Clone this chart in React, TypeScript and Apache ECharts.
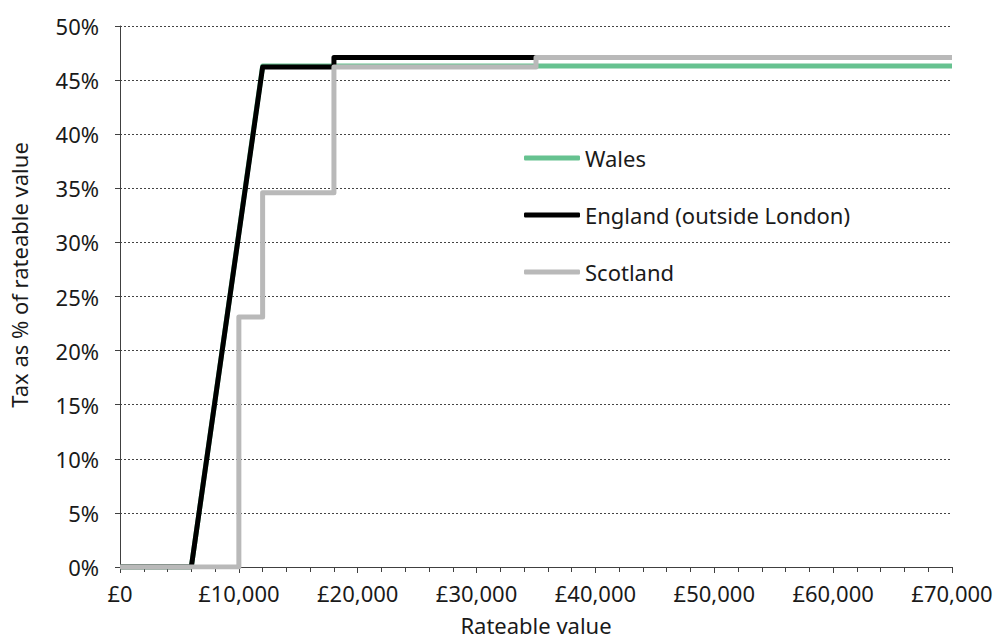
import React, { useEffect, useRef } from "react";
import * as echarts from "echarts";

const seriesNames = ["Wales", "England (outside London)", "Scotland"];
const seriesColors = ["#66c290", "#000000", "#b9b9b9"];

const walesRV = [0, 6000, 12000, 70000];
const walesTax = [0, 0, 46.3, 46.3];

const englandRV = [0, 6000, 12000, 18000, 18000, 70000];
const englandTax = [0, 0, 46.2, 46.2, 47.1, 47.1];

const scotlandRV = [0, 10000, 10000, 12000, 12000, 18000, 18000, 35000, 35000, 70000];
const scotlandTax = [0, 0, 23.1, 23.1, 34.6, 34.6, 46.2, 46.2, 47.1, 47.1];

const xTitle = "Rateable value";
const yTitle = "Tax as % of rateable value";

const FONT = "'Noto Sans', sans-serif";
const TEXT = "#1a1a1a";
const FS = 22;

function pairs(xs: number[], ys: number[]) {
  return xs.map((x, i) => [x, ys[i]]);
}

export default function App() {
  const ref = useRef<HTMLDivElement>(null);
  useEffect(() => {
    if (!ref.current) return;
    const chart = echarts.init(ref.current, null, { renderer: "svg" });
    const data = [pairs(walesRV, walesTax), pairs(englandRV, englandTax), pairs(scotlandRV, scotlandTax)];
    chart.setOption({
      animation: false,
      textStyle: { fontFamily: FONT },
      grid: { left: 120, right: 47, top: 26, bottom: 72 },
      legend: {
        orient: "vertical",
        left: 519,
        top: 140,
        itemWidth: 56,
        itemHeight: 5,
        itemGap: 31,
        icon: "roundRect",
        data: seriesNames,
        textStyle: { fontSize: FS, color: TEXT, fontFamily: FONT, lineHeight: 26 },
      },
      xAxis: {
        type: "value",
        min: 0,
        max: 70000,
        interval: 10000,
        axisLine: { show: true, lineStyle: { color: "#404040", width: 1 } },
        axisTick: { show: true, length: 6, lineStyle: { color: "#404040" } },
        minorTick: { show: true, splitNumber: 5, length: 5, lineStyle: { color: "#404040" } },
        splitLine: { show: false },
        axisLabel: {
          fontSize: FS,
          color: TEXT,
          fontFamily: FONT,
          margin: 15,
          formatter: (v: number) => "£" + v.toLocaleString("en-GB"),
        },
      },
      yAxis: {
        type: "value",
        min: 0,
        max: 50,
        interval: 5,
        axisLine: { show: true, lineStyle: { color: "#404040", width: 1 } },
        axisTick: { show: true, length: 5, lineStyle: { color: "#404040" } },
        splitLine: { show: true, lineStyle: { color: "#444", type: [2, 2], width: 1 } },
        axisLabel: {
          fontSize: FS,
          color: TEXT,
          fontFamily: FONT,
          margin: 21,
          formatter: (v: number) => v + "%",
        },
      },
      graphic: [
        {
          type: "text",
          x: 19,
          y: 275,
          rotation: Math.PI / 2,
          style: { text: yTitle, fontSize: FS, fontFamily: FONT, fill: TEXT, align: "center", verticalAlign: "middle" },
        },
        {
          type: "text",
          x: 536,
          y: 625,
          style: { text: xTitle, fontSize: FS, fontFamily: FONT, fill: TEXT, align: "center", verticalAlign: "middle" },
        },
      ],
      series: seriesNames.map((name, i) => ({
        name,
        type: "line",
        data: data[i],
        showSymbol: false,
        symbol: "none",
        color: seriesColors[i],
        lineStyle: { color: seriesColors[i], width: 5, join: "round", cap: "butt" },
        z: 2 + i,
      })),
    });
    return () => chart.dispose();
  }, []);
  return <div ref={ref} style={{ position: "absolute", left: 0, top: 0, width: 999, height: 639 }} />;
}
